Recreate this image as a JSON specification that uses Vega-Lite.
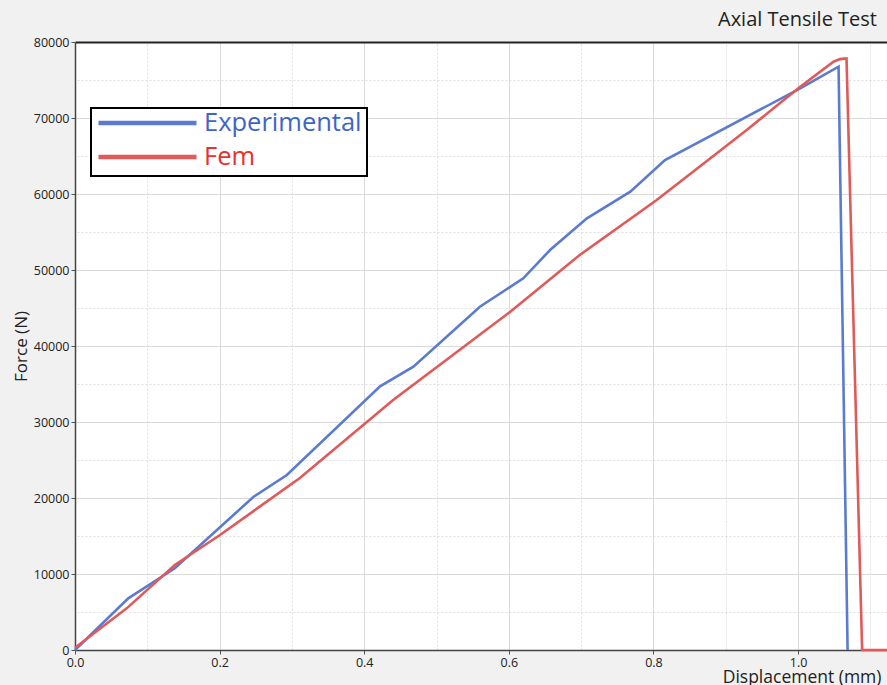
{
  "$schema": "https://vega.github.io/schema/vega-lite/v6.json",
  "width": 812,
  "height": 608,
  "autosize": {"type": "none"},
  "padding": {"left": 75, "top": 42, "right": 0, "bottom": 35},
  "background": "#f0f1f0",
  "title": {"text": "Axial Tensile Test", "anchor": "end", "frame": "group", "fontSize": 20, "font": "Open Sans", "fontWeight": "normal", "color": "#222", "offset": 6, "dx": -10},
  "config": {
    "view": {"fill": "white", "stroke": null},
    "font": "Open Sans"
  },
  "data": {"values": [
    {"series": "Experimental", "i": 0, "d": 0, "F": 0},
    {"series": "Experimental", "i": 1, "d": 0.0737, "F": 6800},
    {"series": "Experimental", "i": 2, "d": 0.138, "F": 10750},
    {"series": "Experimental", "i": 3, "d": 0.2466, "F": 20130},
    {"series": "Experimental", "i": 4, "d": 0.293, "F": 23030},
    {"series": "Experimental", "i": 5, "d": 0.4219, "F": 34700},
    {"series": "Experimental", "i": 6, "d": 0.468, "F": 37280},
    {"series": "Experimental", "i": 7, "d": 0.56, "F": 45170},
    {"series": "Experimental", "i": 8, "d": 0.62, "F": 48900},
    {"series": "Experimental", "i": 9, "d": 0.657, "F": 52630},
    {"series": "Experimental", "i": 10, "d": 0.708, "F": 56800},
    {"series": "Experimental", "i": 11, "d": 0.768, "F": 60300},
    {"series": "Experimental", "i": 12, "d": 0.816, "F": 64470},
    {"series": "Experimental", "i": 13, "d": 1.003, "F": 73900},
    {"series": "Experimental", "i": 14, "d": 1.056, "F": 76750},
    {"series": "Experimental", "i": 15, "d": 1.0685, "F": 0},
    {"series": "Fem", "i": 0, "d": 0, "F": 300},
    {"series": "Fem", "i": 1, "d": 0.0715, "F": 5480},
    {"series": "Fem", "i": 2, "d": 0.138, "F": 11180},
    {"series": "Fem", "i": 3, "d": 0.2, "F": 15100},
    {"series": "Fem", "i": 4, "d": 0.311, "F": 22630},
    {"series": "Fem", "i": 5, "d": 0.44, "F": 32890},
    {"series": "Fem", "i": 6, "d": 0.602, "F": 44510},
    {"series": "Fem", "i": 7, "d": 0.698, "F": 51970},
    {"series": "Fem", "i": 8, "d": 0.8045, "F": 59210},
    {"series": "Fem", "i": 9, "d": 0.929, "F": 68420},
    {"series": "Fem", "i": 10, "d": 1.003, "F": 74120},
    {"series": "Fem", "i": 11, "d": 1.049, "F": 77410},
    {"series": "Fem", "i": 12, "d": 1.058, "F": 77750},
    {"series": "Fem", "i": 13, "d": 1.067, "F": 77850},
    {"series": "Fem", "i": 14, "d": 1.0886, "F": 0},
    {"series": "Fem", "i": 15, "d": 1.123, "F": 0}
  ]},
  "resolve": {"axis": {"x": "independent", "y": "independent"}},
  "layer": [
    {
      "mark": {"type": "line", "opacity": 0},
      "encoding": {
        "x": {"field": "d", "type": "quantitative", "scale": {"domain": [0, 1.123], "nice": false, "zero": false},
          "axis": {"orient": "top", "values": [0.1, 0.3, 0.5, 0.7, 0.9, 1.1], "grid": true, "gridDash": [2, 2], "gridColor": "#dedede", "gridWidth": 1, "labels": false, "ticks": false, "domain": true, "domainColor": "#222", "domainWidth": 2, "title": null}},
        "y": {"field": "F", "type": "quantitative", "scale": {"domain": [0, 80000], "nice": false},
          "axis": {"orient": "right", "values": [5000, 15000, 25000, 35000, 45000, 55000, 65000, 75000], "grid": true, "gridDash": [2, 2], "gridColor": "#dedede", "gridWidth": 1, "labels": false, "ticks": false, "domain": false, "title": null}},
        "detail": {"field": "series"}
      }
    },
    {
      "mark": {"type": "line", "strokeWidth": 2.6},
      "encoding": {
        "x": {"field": "d", "type": "quantitative",
          "axis": {"orient": "bottom", "values": [0, 0.2, 0.4, 0.6, 0.8, 1.0], "format": ".1f", "labelFlush": false, "grid": true, "gridColor": "#dadada", "gridWidth": 1, "labelFontSize": 12.5, "labelColor": "#222", "labelFont": "Open Sans", "labelPadding": 2, "tickSize": 4, "tickColor": "#555", "domainColor": "#444", "domainWidth": 1.5, "title": "Displacement (mm)", "titleAnchor": "end", "titleAlign": "right", "titleBaseline": "alphabetic", "titleX": 806, "titleY": 32, "titleFontSize": 17.5, "titleFontWeight": "normal", "titleColor": "#222", "titleFont": "Open Sans"}},
        "y": {"field": "F", "type": "quantitative",
          "axis": {"orient": "left", "values": [0, 10000, 20000, 30000, 40000, 50000, 60000, 70000, 80000], "format": "d", "labelFlush": false, "grid": true, "gridColor": "#dadada", "gridWidth": 1, "labelFontSize": 12.5, "labelColor": "#222", "labelFont": "Open Sans", "labelPadding": 2, "tickSize": 4, "tickColor": "#555", "domainColor": "#444", "domainWidth": 1.5, "title": "Force (N)", "titleFontSize": 17, "titleFontWeight": "normal", "titleColor": "#222", "titleFont": "Open Sans", "titlePadding": 3}},
        "order": {"field": "i", "type": "quantitative"},
        "color": {"field": "series", "type": "nominal",
          "scale": {"domain": ["Experimental", "Fem"], "range": ["#5b7bd1", "#e05a5a"]},
          "legend": {"orient": "none", "legendX": 16, "legendY": 66, "title": null, "symbolType": "stroke", "symbolSize": 9604, "symbolStrokeWidth": 4.5, "labelFontSize": 25.5, "labelFont": "Open Sans", "labelOffset": 5, "rowPadding": 8, "padding": 5, "fillColor": "white", "strokeColor": "black",
            "labelLimit": 400,
            "encode": {
              "legend": {"update": {"strokeWidth": {"value": 2}}},
              "symbols": {"update": {"y": {"value": 10}}},
              "labels": {"update": {"y": {"value": 10}, "fill": {"signal": "datum.value === 'Fem' ? '#e8302f' : '#3e64c8'"}}}}}}
      }
    }
  ]
}
